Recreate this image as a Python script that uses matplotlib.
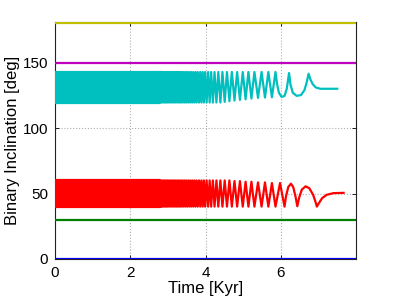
import numpy as np
import matplotlib
matplotlib.use("Agg")
import matplotlib.pyplot as plt

plt.rcParams['font.family'] = ['Liberation Sans', 'DejaVu Sans']

# constant inclinations [deg]
flat_levels = [0, 30, 150, 180]
flat_colors = ['#0000ff', '#008000', '#bf00bf', '#bfbf00']
t_end = 8.0

# dense (unresolved) part of the oscillations: envelope
band_t = [0.0, 2.8]
cyan_band = [119.5, 143.0]
red_band = [40.0, 60.0]

# times of the resolved cycles [Kyr]
peak_t = [2.80, 2.84, 2.88, 2.92, 2.96, 3.00, 3.045, 3.09, 3.135, 3.18,
          3.225, 3.27, 3.315, 3.36, 3.41, 3.46, 3.51, 3.565, 3.62, 3.675,
          3.735, 3.795, 3.86, 3.925, 3.99, 4.07, 4.15, 4.24, 4.34, 4.45,
          4.57, 4.70, 4.84, 4.99, 5.14, 5.30, 5.49, 5.67, 5.86]
trough_t = [2.82, 2.86, 2.90, 2.94, 2.98, 3.022, 3.068, 3.112, 3.158, 3.202,
            3.248, 3.292, 3.338, 3.385, 3.435, 3.485, 3.538, 3.592, 3.648, 3.705,
            3.765, 3.828, 3.892, 3.958, 4.03, 4.11, 4.195, 4.29, 4.395, 4.51,
            4.635, 4.77, 4.915, 5.065, 5.22, 5.395, 5.58, 5.765]

# cyan: maxima at peak_t, minima at trough_t
cyan_max_v = 142.8
cyan_min_v = [119.5] * 29 + [120.0, 120.5, 121.0, 121.5, 122.0, 122.5, 123.0, 123.3, 123.5]
cyan_tail_t = [5.90, 5.95, 6.02, 6.10, 6.16, 6.20, 6.22, 6.26, 6.32, 6.42, 6.54, 6.63,
               6.69, 6.74, 6.79, 6.85, 6.93, 7.05, 7.50]
cyan_tail_v = [134.0, 127.0, 123.8, 124.5, 130.0, 138.0, 142.0, 133.0, 127.0, 124.6,
               125.2, 129.0, 135.0, 141.5, 137.0, 133.5, 131.0, 130.0, 130.0]

# red: dips at peak_t (+ one more), tops at trough_t (+ one more)
red_min_t = peak_t + [6.10]
red_max_t = trough_t + [5.98]
red_min_v = 40.0
red_max_v = [60.0] * 31 + [59.5, 59.5, 59.0, 59.0, 58.5, 58.5, 58.0, 58.0]
red_tail_t = [6.14, 6.20, 6.27, 6.33, 6.39, 6.44, 6.49, 6.56, 6.66, 6.76, 6.86, 6.93,
              6.96, 7.01, 7.10, 7.22, 7.40, 7.67]
red_tail_v = [48.0, 55.0, 57.5, 55.0, 48.0, 40.3, 47.0, 53.0, 55.5, 54.0, 49.0, 43.0,
              40.0, 42.5, 46.5, 49.0, 50.3, 50.5]


def osc_line(max_t, max_v, min_t, min_v, tail_t, tail_v):
    max_v = np.broadcast_to(max_v, len(max_t))
    min_v = np.broadcast_to(min_v, len(min_t))
    t = np.concatenate([max_t, min_t])
    v = np.concatenate([max_v, min_v])
    order = np.argsort(t)
    return np.concatenate([t[order], tail_t]), np.concatenate([v[order], tail_v])


fig = plt.figure(figsize=(3.94, 3.0), dpi=100)
ax = fig.add_axes([0.1396, 0.1367, 0.7640, 0.7900])

lw = 1.6
for lev, col in zip(flat_levels, flat_colors):
    ax.plot([0, t_end], [lev, lev], color=col, lw=lw, solid_capstyle='butt', zorder=3)

cyan = '#00bfbf'
red = '#ff0000'
ax.fill_between(band_t, cyan_band[0], cyan_band[1], color=cyan, lw=lw, zorder=3)
ax.fill_between(band_t, red_band[0], red_band[1], color=red, lw=lw, zorder=3)

ct, cv = osc_line(peak_t, cyan_max_v, trough_t, cyan_min_v, cyan_tail_t, cyan_tail_v)
ax.plot(ct, cv, color=cyan, lw=lw, zorder=3)
rt, rv = osc_line(red_max_t, red_max_v, red_min_t, red_min_v, red_tail_t, red_tail_v)
ax.plot(rt, rv, color=red, lw=lw, zorder=3)

ax.set_xlim(0, 8)
ax.set_ylim(0, 181)
ax.set_xticks([0, 2, 4, 6])
ax.set_yticks([0, 50, 100, 150])
ax.grid(True, linestyle=':', color='#b0b0b0', lw=0.8)
ax.tick_params(direction='in', length=3, width=0.6, labelsize=11, top=True, right=True, pad=5)
for s in ax.spines.values():
    s.set_linewidth(0.8)
    s.set_color('#222222')

ax.set_xlabel('Time [Kyr]', fontsize=12, labelpad=1)
ax.set_ylabel('Binary Inclination [deg]', fontsize=12, labelpad=2)

fig.savefig('out.png', dpi=100)
